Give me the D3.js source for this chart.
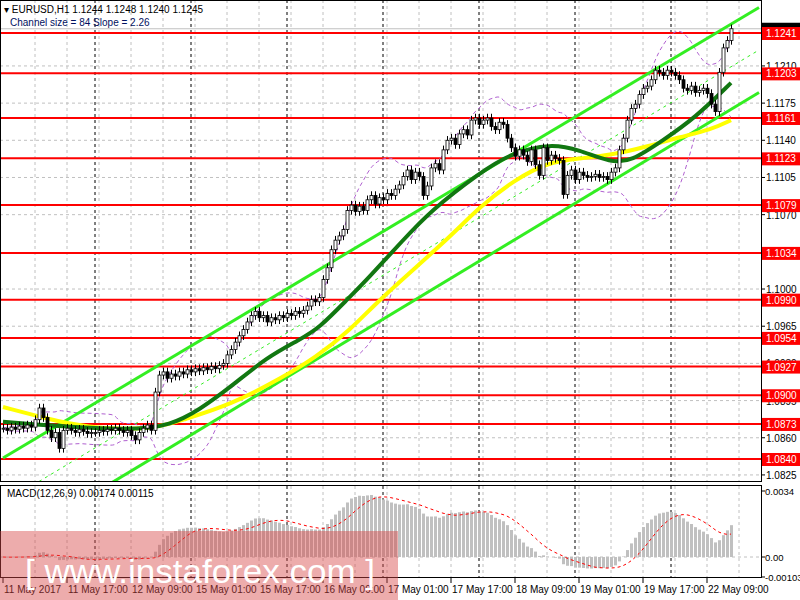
<!DOCTYPE html>
<html><head><meta charset="utf-8">
<script src="https://cdn.jsdelivr.net/npm/d3@7"></script>
<style>body{margin:0;background:#fff}svg{display:block}text{font-family:"Liberation Sans",Arial,sans-serif}</style>
</head><body><svg id="c" width="800" height="600"></svg>
<script>
const closes=[1.0869,1.0867,1.0870,1.0868,1.0871,1.0869,1.0872,1.0870,1.0877,1.0888,1.0879,1.0867,1.0860,1.0865,1.0850,1.0867,1.0869,1.0867,1.0865,1.0868,1.0866,1.0864,1.0865,1.0865,1.0867,1.0866,1.0868,1.0867,1.0869,1.0867,1.0865,1.0867,1.0862,1.0858,1.0865,1.0869,1.0872,1.0867,1.0903,1.0919,1.0922,1.0916,1.0920,1.0918,1.0922,1.0920,1.0924,1.0922,1.0925,1.0923,1.0926,1.0924,1.0927,1.0925,1.0928,1.0930,1.0938,1.0943,1.0950,1.0956,1.0962,1.0969,1.0975,1.0979,1.0973,1.0975,1.0969,1.0973,1.0971,1.0975,1.0973,1.0977,1.0975,1.0979,1.0977,1.0980,1.0984,1.0990,1.0988,1.0992,1.1009,1.1020,1.1037,1.1046,1.1050,1.1056,1.1074,1.1079,1.1073,1.1078,1.1074,1.1084,1.1088,1.1080,1.1086,1.1084,1.1090,1.1088,1.1094,1.1098,1.1106,1.1112,1.1103,1.1110,1.1106,1.1088,1.1097,1.1114,1.1118,1.1112,1.1131,1.1140,1.1142,1.1136,1.1146,1.1150,1.1145,1.1159,1.1161,1.1155,1.1159,1.1161,1.1153,1.1150,1.1157,1.1155,1.1142,1.1133,1.1125,1.1131,1.1126,1.1120,1.1131,1.1117,1.1107,1.1133,1.1121,1.1126,1.1123,1.1121,1.1089,1.1107,1.1112,1.1103,1.1110,1.1107,1.1105,1.1106,1.1108,1.1105,1.1106,1.1103,1.1110,1.1114,1.1131,1.1142,1.1159,1.1170,1.1174,1.1183,1.1189,1.1191,1.1197,1.1206,1.1204,1.1201,1.1206,1.1204,1.1201,1.1197,1.1189,1.1187,1.1191,1.1185,1.1187,1.1189,1.1184,1.1174,1.1167,1.1204,1.1227,1.1234,1.1245];
const maFastBars=[0,32,42,49,57,66,74,79,86,91,100,107,119,127,137,144,152,157,165,173,182];
const maFast=[1.0875,1.0866,1.0872,1.0886,1.0908,1.0936,1.0952,1.0963,1.0990,1.1009,1.1046,1.1074,1.1109,1.1128,1.1137,1.1131,1.1119,1.1120,1.1140,1.1161,1.1194];
const maSlowBars=[0,12,20,37,45,57,70,78,87,94,111,119,128,136,144,152,161,169,177,182];
const maSlow=[1.0889,1.0877,1.0870,1.0867,1.0877,1.0891,1.0917,1.0935,1.0962,1.0990,1.1046,1.1077,1.1103,1.1119,1.1123,1.1126,1.1134,1.1143,1.1150,1.1159];
const channelBars=[0,189];
const channelUpper=[1.0841,1.1265];
const channelLower=[1.0756,1.1185];
const levels=[1.1241,1.1203,1.1161,1.1123,1.1079,1.1034,1.0990,1.0954,1.0927,1.0900,1.0873,1.0840];
const priceTicks=[1.1210,1.1175,1.1140,1.1105,1.1070,1.1000,1.0965,1.0930,1.0895,1.0860,1.0825];
const timeLabels=["11 May 2017","11 May 17:00","12 May 09:00","15 May 01:00","15 May 17:00","16 May 09:00","17 May 01:00","17 May 17:00","18 May 09:00","19 May 01:00","19 May 17:00","22 May 09:00"];
const dayStarts=[23,47,71,95,119,143,167];

const svg=d3.select("#c");
const x=d3.scaleLinear().domain([0,182]).range([3,731]);
const y=d3.scaleLinear().domain([1.1241,1.0840]).range([33,459]);
const ym=d3.scaleLinear().domain([0.0034,0]).range([491,557]);
const R=761;
const gridBars=d3.range(8,190,8).filter(b=>!dayStarts.includes(b));
const g=svg.append("g");
g.selectAll(".vg").data(gridBars).join("line").attr("x1",d=>x(d)).attr("x2",d=>x(d)).attr("y1",0).attr("y2",578).attr("stroke","#c0c0c0").attr("stroke-dasharray","3,3");
g.selectAll(".vd").data(dayStarts).join("line").attr("x1",d=>x(d)).attr("x2",d=>x(d)).attr("y1",0).attr("y2",578).attr("stroke","#000").attr("stroke-dasharray","3,3");
g.selectAll(".hg").data(priceTicks).join("line").attr("x1",0).attr("x2",R).attr("y1",d=>y(d)).attr("y2",d=>y(d)).attr("stroke","#c0c0c0").attr("stroke-dasharray","3,3");
g.append("line").attr("x1",0).attr("x2",R).attr("y1",ym(0)).attr("y2",ym(0)).attr("stroke","#c0c0c0").attr("stroke-dasharray","3,3");
svg.append("rect").attr("x",0).attr("y",482).attr("width",R).attr("height",3).attr("fill","#fff");
svg.selectAll(".lv").data(levels).join("line").attr("x1",0).attr("x2",R).attr("y1",d=>y(d)).attr("y2",d=>y(d)).attr("stroke","#ff0000").attr("stroke-width",2);
svg.append("line").attr("x1",0).attr("x2",R).attr("y1",y(1.1245)).attr("y2",y(1.1245)).attr("stroke","#c0c0c0");
const P=20,bu=[],bl=[];
closes.forEach((c,i)=>{const w=closes.slice(Math.max(0,i-P+1),i+1);const m=d3.mean(w),s=Math.sqrt(d3.mean(w,v=>(v-m)**2));bu.push(m+2*s);bl.push(m-2*s);});
const ln=d3.line().x((d,i)=>x(i)).y(d=>y(d)).curve(d3.curveBasis);
svg.append("clipPath").attr("id","mc").append("rect").attr("x",0).attr("y",0).attr("width",R).attr("height",482);
const mg=svg.append("g").attr("clip-path","url(#mc)");
[bu,bl].forEach(b=>mg.append("path").attr("d",ln(b)).attr("fill","none").attr("stroke","#b060d0").attr("stroke-dasharray","4,3"));
const cl=(arr)=>d3.line().x((d,i)=>x(channelBars[i])).y(d=>y(d))(arr);
mg.append("path").attr("d",cl(channelUpper)).attr("stroke","#33ee22").attr("stroke-width",3).attr("fill","none");
mg.append("path").attr("d",cl(channelLower)).attr("stroke","#33ee22").attr("stroke-width",3).attr("fill","none");
mg.append("path").attr("d",cl(channelUpper.map((v,i)=>(v+channelLower[i])/2))).attr("stroke","#33ee22").attr("stroke-dasharray","3,4").attr("fill","none");
const mal=(bars)=>d3.line().x((d,i)=>x(bars[i])).y(d=>y(d)).curve(d3.curveBasis);
mg.append("path").attr("d",mal(maSlowBars)(maSlow)).attr("stroke","#ffff00").attr("stroke-width",4).attr("fill","none");
mg.append("path").attr("d",mal(maFastBars)(maFast)).attr("stroke","#117711").attr("stroke-width",4).attr("fill","none");
const cd=closes.map((c,i)=>{const o=i?closes[i-1]:c;return{i,o,c,h:Math.max(o,c)+0.0004,l:Math.min(o,c)-0.0004};});
const cg=mg.selectAll(".cd").data(cd).join("g");
cg.append("line").attr("x1",d=>x(d.i)+0.5).attr("x2",d=>x(d.i)+0.5).attr("y1",d=>y(d.h)).attr("y2",d=>y(d.l)).attr("stroke","#000");
cg.append("rect").attr("x",d=>x(d.i)-1).attr("width",3).attr("y",d=>y(Math.max(d.o,d.c))).attr("height",d=>Math.max(1,Math.abs(y(d.o)-y(d.c)))).attr("fill",d=>d.c>=d.o?"#fff":"#000").attr("stroke","#000").attr("stroke-width",0.8);
const ema=(arr,n)=>{const k=2/(n+1);let e=arr[0];return arr.map(v=>e=v*k+e*(1-k));};
const e12=ema(closes,12),e26=ema(closes,26);
const macd=closes.map((c,i)=>e12[i]-e26[i]);
const sig=macd.map((v,i)=>d3.mean(macd.slice(Math.max(0,i-8),i+1)));
svg.selectAll(".mb").data(macd).join("rect").attr("x",(d,i)=>x(i)-1).attr("width",3).attr("y",d=>Math.min(ym(d),ym(0))).attr("height",d=>Math.abs(ym(d)-ym(0))).attr("fill","#c0c0c0");
svg.append("path").attr("d",d3.line().x((d,i)=>x(i)).y(d=>ym(d))(sig)).attr("fill","none").attr("stroke","#ff0000").attr("stroke-dasharray","3,3");
svg.append("rect").attr("x",0.5).attr("y",0.5).attr("width",R).attr("height",481).attr("fill","none").attr("stroke","#000");
svg.append("rect").attr("x",0.5).attr("y",485.5).attr("width",R).attr("height",92).attr("fill","none").attr("stroke","#000");
svg.selectAll(".pt").data(priceTicks).join("text").attr("x",766).attr("y",d=>y(d)+4).attr("font-size",10).text(d=>d.toFixed(4));
svg.selectAll(".ptk").data(priceTicks).join("line").attr("x1",R).attr("x2",R+4).attr("y1",d=>y(d)).attr("y2",d=>y(d)).attr("stroke","#000");
svg.append("rect").attr("x",R+1).attr("y",y(1.1245)-6).attr("width",39).attr("height",12).attr("fill","#000");
const lb=svg.selectAll(".lb").data(levels).join("g");
lb.append("rect").attr("x",R+1).attr("y",d=>y(d)-6).attr("width",39).attr("height",13).attr("fill","#ff0000");
lb.append("text").attr("x",766).attr("y",d=>y(d)+4).attr("font-size",10).attr("fill","#fff").text(d=>d.toFixed(4));
[[0.0034,"0.0034"],[0,"0.00"],[-0.00103,"-0.00103"]].forEach(([v,t])=>{svg.append("text").attr("x",765).attr("y",ym(v)+4).attr("font-size",9.5).text(t);svg.append("line").attr("x1",R).attr("x2",R+4).attr("y1",ym(v)).attr("y2",ym(v)).attr("stroke","#000");});
svg.selectAll(".tl").data(timeLabels).join("text").attr("x",(d,i)=>x(i*16)+1).attr("y",593).attr("font-size",10).text(d=>d);
svg.selectAll(".tt").data(timeLabels).join("line").attr("x1",(d,i)=>x(i*16)).attr("x2",(d,i)=>x(i*16)).attr("y1",578).attr("y2",583).attr("stroke","#000");
svg.append("text").attr("x",4).attr("y",13).attr("font-size",10).text("▾ EURUSD,H1  1.1244 1.1248 1.1240 1.1245");
svg.append("text").attr("x",10).attr("y",26).attr("font-size",10).attr("fill","#001060").text("Channel size = 84 Slope = 2.26");
svg.append("text").attr("x",7).attr("y",497).attr("font-size",10).text("MACD(12,26,9) 0.00174 0.00115");
svg.append("rect").attr("x",0).attr("y",531).attr("width",398).attr("height",69).attr("fill","rgba(215,70,70,0.45)");
svg.append("text").attr("x",25).attr("y",583).attr("font-size",34).attr("textLength",350).attr("lengthAdjust","spacingAndGlyphs").attr("font-family","'Open Sans',sans-serif").attr("font-weight",300).attr("fill","#fff").text("[ www.instaforex.com ]");
</script></body></html>
